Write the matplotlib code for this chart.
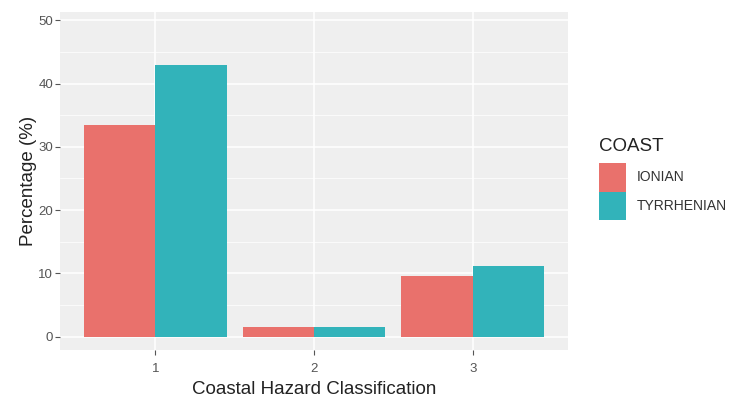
import numpy as np
import matplotlib
matplotlib.use('Agg')
import matplotlib.pyplot as plt
from matplotlib.patches import Patch

plt.rcParams['font.family'] = ['Liberation Sans', 'DejaVu Sans']

# data
classes = ['1', '2', '3']
coasts = ['IONIAN', 'TYRRHENIAN']
ionian = [33.4, 1.6, 9.6]
tyrrhenian = [42.9, 1.6, 11.1]
colors = ['#E9716C', '#32B3BA']

fig = plt.figure(figsize=(7.37, 3.99), dpi=100)
ax = fig.add_axes([60/737, 49/399, 508/737, 338/399])
ax.set_facecolor('#EFEFEF')

x = np.arange(1, len(classes) + 1)
w = 0.45
ax.bar(x - w/2, ionian, width=w, color=colors[0], zorder=3)
ax.bar(x + w/2, tyrrhenian, width=w, color=colors[1], zorder=3)

ax.set_xlim(0.4, 3.6)
ax.set_ylim(-2.1, 51.3)
ax.set_xticks(x)
ax.set_xticklabels(classes)
ax.set_yticks(np.arange(0, 51, 10))
ax.set_yticks(np.arange(5, 50, 10), minor=True)
ax.grid(True, which='major', color='white', lw=1.1, zorder=0)
ax.grid(True, which='minor', axis='y', color='white', lw=0.5, zorder=0)
ax.tick_params(which='major', colors='#555555', labelsize=9.5, length=3.5, width=0.8, pad=1.5)
ax.tick_params(which='minor', length=0)
ax.tick_params(axis='x', pad=6)
for s in ax.spines.values():
    s.set_visible(False)

ax.set_xlabel('Coastal Hazard Classification', fontsize=13.5, color='#222222', labelpad=4)
ax.set_ylabel('Percentage (%)', fontsize=13.5, color='#222222', labelpad=1)

handles = [Patch(facecolor=c, edgecolor='none') for c in colors]
leg = fig.legend(handles, coasts, title='COAST', loc='upper left',
                 bbox_to_anchor=(593/737, 1 - 132/399), frameon=False,
                 fontsize=10, title_fontsize=13.5, handlelength=2.0,
                 handleheight=2.8, handletextpad=0.75, labelspacing=0.0,
                 borderaxespad=0.0)
leg._legend_box.align = 'left'
leg._legend_box.sep = 6
leg.get_title().set_color('#222222')
for t in leg.get_texts():
    t.set_color('#333333')

fig.savefig('out.png', dpi=100)
